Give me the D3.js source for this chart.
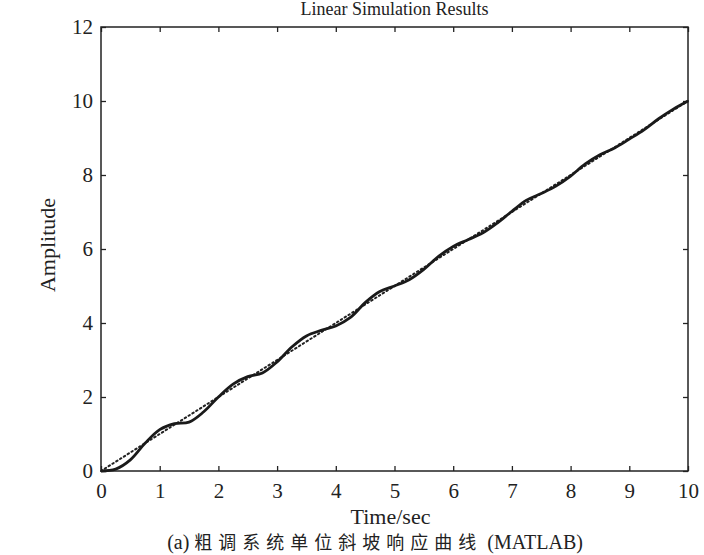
<!DOCTYPE html>
<html>
<head>
<meta charset="utf-8">
<script src="https://cdn.jsdelivr.net/npm/d3@7"></script>
<style>
  html, body { margin: 0; padding: 0; background: #fff; }
  svg { display: block; }
</style>
</head>
<body>
<svg id="chart" width="704" height="555"></svg>
<script>
// ---- data ----
const title = "Linear Simulation Results";
const xLabel = "Time/sec";
const yLabel = "Amplitude";
const captionParts = ["(a) ", "粗调系统单位斜坡响应曲线", " (MATLAB)"];
const xTicks = [0,1,2,3,4,5,6,7,8,9,10];
const yTicks = [0,2,4,6,8,10,12];
const time = [0,0.25,0.5,0.75,1,1.25,1.5,1.75,2,2.25,2.5,2.75,3,3.25,3.5,3.75,4,4.25,4.5,4.75,5,
              5.25,5.5,5.75,6,6.25,6.5,6.75,7,7.25,7.5,7.75,8,8.25,8.5,8.75,9,9.25,9.5,9.75,10];
const response = [0,0.05,0.3,0.75,1.12,1.28,1.32,1.6,2.0,2.35,2.55,2.65,2.95,3.35,3.65,3.8,3.92,4.15,4.55,4.85,5.0,
                  5.17,5.45,5.8,6.07,6.25,6.43,6.7,7.02,7.32,7.5,7.7,7.97,8.3,8.55,8.73,8.97,9.22,9.52,9.78,10.0];
const rampInput = [0,0.25,0.5,0.75,1,1.25,1.5,1.75,2,2.25,2.5,2.75,3,3.25,3.5,3.75,4,4.25,4.5,4.75,5,
                   5.25,5.5,5.75,6,6.25,6.5,6.75,7,7.25,7.5,7.75,8,8.25,8.5,8.75,9,9.25,9.5,9.75,10];

// ---- layout ----
const svg = d3.select("#chart");
const mLeft = 101, mRight = 688, mTop = 27, mBottom = 471;
const x = d3.scaleLinear().domain([0,10]).range([mLeft,mRight]);
const y = d3.scaleLinear().domain([0,12]).range([mBottom,mTop]);
const serif = "'Liberation Serif', 'Times New Roman', serif";

// axes with inward ticks (MATLAB box style)
const tickLen = 5;
const gx = svg.append("g").attr("transform", `translate(0,${mBottom})`)
  .call(d3.axisBottom(x).tickValues(xTicks).tickSizeInner(-tickLen).tickSizeOuter(0).tickPadding(12).tickFormat(d3.format("d")));
const gxt = svg.append("g").attr("transform", `translate(0,${mTop})`)
  .call(d3.axisTop(x).tickValues(xTicks).tickSizeInner(-tickLen).tickSizeOuter(0).tickFormat(""));
const gy = svg.append("g").attr("transform", `translate(${mLeft},0)`)
  .call(d3.axisLeft(y).tickValues(yTicks).tickSizeInner(-tickLen).tickSizeOuter(0).tickPadding(8).tickFormat(d3.format("d")));
const gyr = svg.append("g").attr("transform", `translate(${mRight},0)`)
  .call(d3.axisRight(y).tickValues(yTicks).tickSizeInner(-tickLen).tickSizeOuter(0).tickFormat(""));

[gx, gxt, gy, gyr].forEach(g => {
  g.select(".domain").remove();
  g.selectAll(".tick line").attr("stroke", "#222").attr("stroke-width", 1.3);
  g.selectAll(".tick text").attr("font-family", serif).attr("font-size", 21).attr("fill", "#222");
});

// box
svg.append("rect")
  .attr("x", mLeft).attr("y", mTop)
  .attr("width", mRight - mLeft).attr("height", mBottom - mTop)
  .attr("fill", "none").attr("stroke", "#222").attr("stroke-width", 1.5);

// ramp input (dotted)
svg.append("path")
  .attr("d", d3.line().x((d,i) => x(time[i])).y(d => y(d))(rampInput))
  .attr("fill", "none").attr("stroke", "#222").attr("stroke-width", 2)
  .attr("stroke-dasharray", "1.5,3").attr("stroke-linecap", "round");

// response (solid)
svg.append("path")
  .attr("d", d3.line().x((d,i) => x(time[i])).y(d => y(d)).curve(d3.curveCatmullRom)(response))
  .attr("fill", "none").attr("stroke", "#1a1a1a").attr("stroke-width", 2.8)
  .attr("stroke-linejoin", "round");

// texts
svg.append("text").attr("x", (mLeft+mRight)/2).attr("y", 15).attr("text-anchor", "middle")
  .attr("font-family", serif).attr("font-size", 18).attr("fill", "#222").text(title);
svg.append("text").attr("x", (mLeft+mRight)/2 - 4).attr("y", 524).attr("text-anchor", "middle")
  .attr("font-family", serif).attr("font-size", 22).attr("fill", "#222").text(xLabel);
svg.append("text").attr("transform", `translate(55,${(mTop+mBottom)/2 - 4}) rotate(-90)`).attr("text-anchor", "middle")
  .attr("font-family", serif).attr("font-size", 22).attr("fill", "#222").text(yLabel);
const cap = svg.append("text").attr("x", 375).attr("y", 549).attr("text-anchor", "middle")
  .attr("font-family", "'Noto Sans CJK SC', " + serif).attr("font-size", 18).attr("fill", "#222");
cap.append("tspan").attr("font-family", serif).attr("font-size", 20).text(captionParts[0]);
cap.append("tspan").attr("letter-spacing", 6).text(captionParts[1]);
cap.append("tspan").attr("font-family", serif).attr("font-size", 20).text(captionParts[2]);
</script>
</body>
</html>
